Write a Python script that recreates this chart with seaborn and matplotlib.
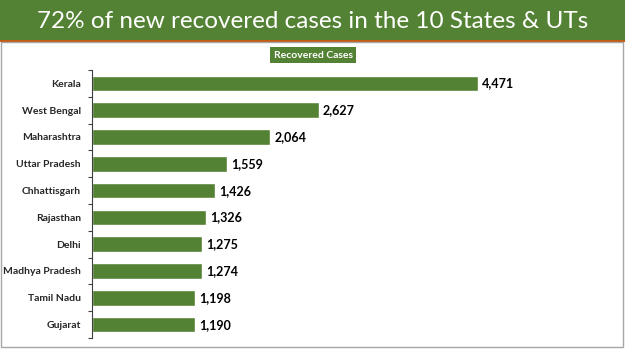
import numpy as np
import pandas as pd
import seaborn as sns
import matplotlib.pyplot as plt
from matplotlib.patches import Rectangle

# datos
states = ['Kerala', 'West Bengal', 'Maharashtra', 'Uttar Pradesh', 'Chhattisgarh',
          'Rajasthan', 'Delhi', 'Madhya Pradesh', 'Tamil Nadu', 'Gujarat']
recovered = [4471, 2627, 2064, 1559, 1426, 1326, 1275, 1274, 1198, 1190]
title = '72% of new recovered cases in the 10 States & UTs'
series_name = 'Recovered Cases'

green = '#548235'
W, H = 625, 351

sns.set_style('white')
plt.rcParams['font.family'] = ['Lato', 'DejaVu Sans']

fig = plt.figure(figsize=(W / 100, H / 100), dpi=100)

# cabecera verde y marco
fig.patches.append(Rectangle((0, 1 - 40 / H), 1, 40 / H, transform=fig.transFigure,
                             facecolor=green, edgecolor='none', zorder=0))
fig.patches.append(Rectangle((0, 1 - 42 / H), 1, 2 / H, transform=fig.transFigure,
                             facecolor='#c55a11', edgecolor='none', zorder=0))
fig.patches.append(Rectangle((1.5 / W, 4 / H), 621 / W, 1 - 46 / H, transform=fig.transFigure,
                             facecolor='none', edgecolor='#a6a6a6', linewidth=1, zorder=0))
fig.text(0.5, 1 - 21 / H, title, color='white', fontsize=17.5, ha='center', va='center')
fig.text(313 / W, 1 - 55 / H, series_name, color='white', fontsize=7.5, fontweight='bold',
         ha='center', va='center',
         bbox=dict(facecolor=green, edgecolor='none', boxstyle='square,pad=0.3'))

ax = fig.add_axes([92 / W, 13 / H, 508 / W, 268 / H])
df = pd.DataFrame({'state': states, 'recovered': recovered})
sns.barplot(data=df, x='recovered', y='state', orient='h', color=green, width=0.58,
            saturation=1, ax=ax)
ax.bar_label(ax.containers[0], labels=[f'{v:,}' for v in recovered], padding=3,
             fontsize=9, fontweight='bold', color='black')

ax.set_xlim(0, 508 / 0.0863)
ax.set_ylim(9.5, -0.5)
ax.set_xlabel('')
ax.set_ylabel('')
ax.set_xticks([])
for s in ['top', 'right', 'bottom']:
    ax.spines[s].set_visible(False)
ax.spines['left'].set_color('#404040')
ax.spines['left'].set_linewidth(0.8)
ax.tick_params(axis='y', which='major', length=0, pad=8, labelsize=7.5)
for lab in ax.get_yticklabels():
    lab.set_fontweight('bold')
ax.set_yticks(np.arange(-0.5, 10, 1), minor=True)
ax.tick_params(axis='y', which='minor', left=True, length=3, width=0.8,
               color='#404040', direction='out')

plt.savefig('out.png', dpi=100)
